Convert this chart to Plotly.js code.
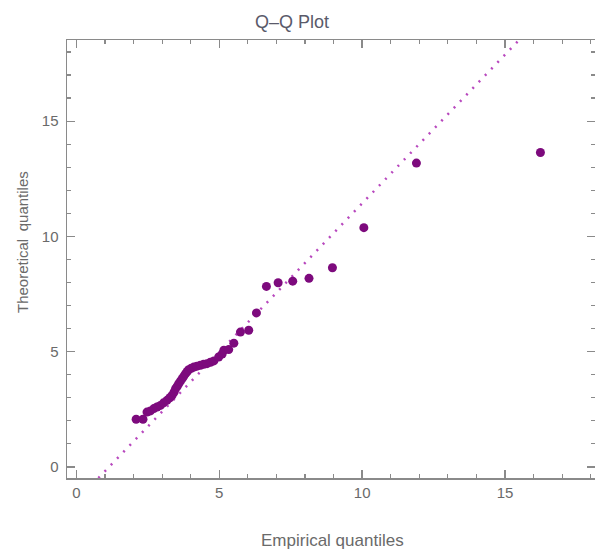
<!DOCTYPE html>
<html>
<head>
<meta charset="utf-8">
<script src="https://cdn.plot.ly/plotly-3.0.1.min.js"></script>
<style>html,body{margin:0;padding:0;background:#fff;}#chart{width:595px;height:550px;}</style>
</head>
<body>
<div id="chart"></div>
<script>
// Empirical quantiles (x) and theoretical quantiles (y)
const empirical = [2.09, 2.33, 2.47, 2.59, 2.71, 2.82, 2.94, 3.05, 3.17, 3.27, 3.35, 3.42, 3.47, 3.53, 3.58, 3.64, 3.70, 3.76, 3.82, 3.88, 3.93, 4.02, 4.11, 4.22, 4.34, 4.45, 4.57, 4.69, 4.81, 4.98, 5.10, 5.16, 5.33, 5.51, 5.74, 6.03, 6.30, 6.65, 7.06, 7.57, 8.14, 8.96, 10.06, 11.90, 16.24];
const theoretical = [2.07, 2.07, 2.38, 2.43, 2.53, 2.60, 2.67, 2.78, 2.89, 3.00, 3.11, 3.25, 3.40, 3.50, 3.61, 3.72, 3.83, 3.94, 4.05, 4.14, 4.22, 4.28, 4.33, 4.37, 4.41, 4.45, 4.48, 4.54, 4.60, 4.77, 4.90, 5.06, 5.09, 5.37, 5.85, 5.93, 6.68, 7.83, 7.99, 8.06, 8.18, 8.64, 10.38, 13.18, 13.64];
// Reference line y = intercept + slope * x
const refIntercept = -1.47;
const refSlope = 1.29;
const xRange = [-0.33, 18.15];
const yRange = [-0.48, 18.52];
const xTickVals = [0, 5, 10, 15];
const yTickVals = [0, 5, 10, 15];

const refX = [(yRange[0] - refIntercept) / refSlope, (yRange[1] - refIntercept) / refSlope];
const refY = refX.map(v => refIntercept + refSlope * v);

const axisColor = '#8a8a8a';
const textColor = '#6a6a6a';
const font = 'Liberation Sans Narrow, Arial Narrow, Liberation Sans, Arial, sans-serif';

const traces = [
  {
    x: refX, y: refY, type: 'scatter', mode: 'lines',
    line: {color: '#b848be', width: 2.5, dash: '2px,7px'},
    hoverinfo: 'skip', showlegend: false
  },
  {
    x: empirical, y: theoretical, type: 'scatter', mode: 'markers',
    marker: {color: '#7d0a7d', size: 9, line: {width: 0}},
    showlegend: false
  }
];

const axisCommon = {
  showgrid: false, zeroline: false, showline: true, linecolor: axisColor, linewidth: 1.5,
  mirror: 'ticks', ticks: 'inside', ticklen: 8, tickwidth: 1.3, tickcolor: axisColor,
  tickfont: {family: 'Liberation Sans, Arial, sans-serif', size: 15, color: textColor},
  minor: {dtick: 1, ticks: 'inside', ticklen: 4, tickwidth: 1.2, tickcolor: axisColor}
};

const layout = {
  width: 595, height: 550,
  margin: {l: 67, r: 0, t: 40, b: 72},
  paper_bgcolor: '#fff', plot_bgcolor: '#fff',
  xaxis: Object.assign({}, axisCommon, {range: xRange, tickvals: xTickVals, ticktext: xTickVals.map(String)}),
  yaxis: Object.assign({}, axisCommon, {range: yRange, tickvals: yTickVals, ticktext: yTickVals.map(String), ticklabelstandoff: 4}),
  annotations: [
    {text: 'Q\u2013Q Plot', xref: 'paper', yref: 'paper', x: (292 - 67) / 528, y: 1, yshift: 18, xanchor: 'center', yanchor: 'middle',
     showarrow: false, font: {family: font, size: 18, color: '#5a5a6a'}},
    {text: 'Empirical quantiles', xref: 'paper', yref: 'paper', x: (332 - 67) / 528, y: 0, yshift: -62, xanchor: 'center', yanchor: 'middle',
     showarrow: false, font: {family: font, size: 17, color: textColor}},
    {text: 'Theoretical\u2002quantiles', xref: 'paper', yref: 'paper', x: 0, xshift: -45, y: (478 - 242) / 438, xanchor: 'center', yanchor: 'middle',
     textangle: -90, showarrow: false, font: {family: 'Liberation Sans, Arial, sans-serif', size: 15, color: textColor}}
  ]
};

Plotly.newPlot('chart', traces, layout, {displayModeBar: false, staticPlot: true});
</script>
</body>
</html>
